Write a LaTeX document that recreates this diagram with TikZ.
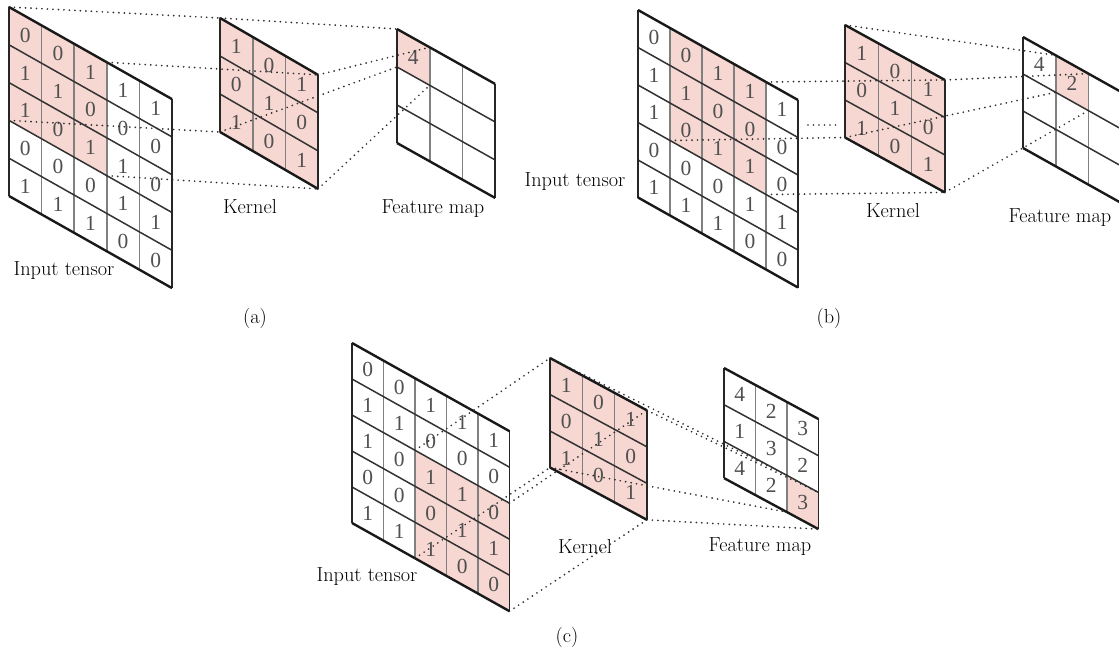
\documentclass[tikz,border=0pt]{standalone}
\usepackage{fontspec}
\newfontfamily\digitfont{Liberation Serif}
\usetikzlibrary{calc}

\definecolor{cellpink}{RGB}{246,215,209}
\definecolor{digitgray}{RGB}{80,80,80}
\definecolor{linkgray}{RGB}{45,45,45}

\tikzset{
  edgeline/.style={line width=2.4pt, black!90},
  sideline/.style={line width=1.4pt, black!85},
  rowline/.style={line width=1.5pt, black!80},
  colline/.style={line width=1.6pt, black!50},
  link/.style={line width=1.9pt, linkgray, line cap=round, dash pattern=on 0pt off 5.5pt},
  digit/.style={font=\digitfont\fontsize{21.5}{21.5}\selectfont, text=digitgray, inner sep=0pt},
  caption/.style={font=\fontsize{20.3}{23}\selectfont, inner sep=0pt},
}

% corner coordinates of a sheared grid: name, x0, y0, cell width, cell height, shear, cols, rows
\newcommand\mkgrid[8]{%
  \foreach \i in {0,...,#7}{%
    \foreach \j in {0,...,#8}{%
      \coordinate (#1-\i-\j) at ({#2+\i*#4},{#3+\i*#4*#6+\j*#5});
    }%
  }%
}
% shaded cell: grid, col, row
\newcommand\pinkcell[3]{%
  \pgfmathtruncatemacro\ci{#2+1}\pgfmathtruncatemacro\ri{#3+1}%
  \fill[cellpink] (#1-#2-#3) -- (#1-\ci-#3) -- (#1-\ci-\ri) -- (#1-#2-\ri) -- cycle;
}
% value in a cell: grid, col, row, value
\newcommand\celldigit[4]{%
  \pgfmathtruncatemacro\ci{#2+1}\pgfmathtruncatemacro\ri{#3+1}%
  \node[digit] (#1-d-#2-#3) at ($(#1-#2-#3)!0.5!(#1-\ci-\ri)$) {#4};
}
% all values, row by row: grid, cols, list
\newcommand\putdigits[3]{%
  \edef\valuelist{#3}%
  \foreach \v [count=\k from 0] in \valuelist {%
    \pgfmathtruncatemacro\cc{mod(\k,#2)}\pgfmathtruncatemacro\rr{div(\k,#2)}%
    \celldigit{#1}{\cc}{\rr}{\v}%
  }%
}
% ruling of a grid: grid, cols, rows
\newcommand\gridlines[3]{%
  \pgfmathtruncatemacro\lastc{#2-1}\pgfmathtruncatemacro\lastr{#3-1}%
  \foreach \i in {1,...,\lastc} \draw[colline] (#1-\i-0) -- (#1-\i-#3);
  \foreach \j in {1,...,\lastr} \draw[rowline] (#1-0-\j) -- (#1-#2-\j);
  \draw[sideline] (#1-0-0) -- (#1-0-#3) (#1-#2-0) -- (#1-#2-#3);
  \draw[edgeline] (#1-0-0) -- (#1-#2-0) (#1-0-#3) -- (#1-#2-#3);
}

\newcommand\inputvalues{0,0,1,1,1,1,1,0,0,0,1,0,1,1,0,0,0,0,1,1,1,1,1,0,0}
\newcommand\kernelvalues{1,0,1,0,1,0,1,0,1}
\newcommand\featurevalues{4,2,3,1,3,2,4,2,3}

\begin{document}
\begin{tikzpicture}[x=1pt,y=-1pt]
\useasboundingbox (0,0) rectangle (1119,654);

% ---------------- (a) ----------------
\mkgrid{ain}{9}{7}{32.6}{37.8}{0.565}{5}{5}
\mkgrid{ak}{220}{18}{32.7}{38}{0.58}{3}{3}
\mkgrid{afm}{397}{29}{32.7}{38}{0.56}{3}{3}
\foreach \c in {0,1,2}{\foreach \r in {0,1,2}{\pinkcell{ain}{\c}{\r}\pinkcell{ak}{\c}{\r}}}
\pinkcell{afm}{0}{0}
\putdigits{ain}{5}{\inputvalues}
\putdigits{ak}{3}{\kernelvalues}
\celldigit{afm}{0}{0}{4}
\gridlines{ain}{5}{5}
\gridlines{ak}{3}{3}
\gridlines{afm}{3}{3}
\node[caption] (a-inlabel) at (64,271) {Input tensor};
\node[caption] (a-klabel) at (250,207) {Kernel};
\node[caption] (a-fmlabel) at (433,209) {Feature map};
\node[caption] (a-tag) at (255,318) {(a)};
\draw[link] (ain-0-0) -- (ak-0-0);
\draw[link] (ain-3-0) -- (ak-3-0);
\draw[link] (ain-0-3) -- (ak-0-3);
\draw[link] (ain-3-3) -- (ak-3-3);
\draw[link] (ak-0-0) -- (afm-0-0);
\draw[link] (ak-3-0) -- (afm-1-0);
\draw[link] (ak-0-3) -- (afm-0-1);
\draw[link] (ak-3-3) -- (afm-1-1);

% ---------------- (b) ----------------
\mkgrid{bin}{638}{10}{32}{37.5}{0.5625}{5}{5}
\mkgrid{bk}{845}{25}{33.3}{37.5}{0.55}{3}{3}
\mkgrid{bfm}{1023}{37}{32.7}{37}{0.56}{3}{3}
\foreach \c in {1,2,3}{\foreach \r in {0,1,2}{\pinkcell{bin}{\c}{\r}}}
\foreach \c in {0,1,2}{\foreach \r in {0,1,2}{\pinkcell{bk}{\c}{\r}}}
\pinkcell{bfm}{1}{0}
\putdigits{bin}{5}{\inputvalues}
\putdigits{bk}{3}{\kernelvalues}
\celldigit{bfm}{0}{0}{4}
\celldigit{bfm}{1}{0}{2}
\gridlines{bin}{5}{5}
\gridlines{bk}{3}{3}
\gridlines{bfm}{3}{3}
\node[caption] (b-inlabel) at (575,182) {Input tensor};
\node[caption] (b-klabel) at (893,211) {Kernel};
\node[caption] (b-fmlabel) at (1060,218) {Feature map};
\node[caption] (b-tag) at (829,318) {(b)};
\coordinate (bstub-a) at (808,125);
\coordinate (bstub-b) at (840,125);
\draw[link] (bin-4-0) -- (bk-3-0);
\draw[link] (bstub-a) -- (bstub-b);
\draw[link] (bin-1-3) -- (bk-0-3);
\draw[link] (bin-4-3) -- (bk-3-3);
\draw[link] (bk-0-0) -- (bfm-1-0);
\draw[link] (bk-3-0) -- (bfm-2-0);
\draw[link] (bk-0-3) -- (bfm-1-1);
\draw[link] (bk-3-3) -- (bfm-2-1);

% ---------------- (c) ----------------
\mkgrid{cin}{352}{343}{31.5}{36}{0.56}{5}{5}
\mkgrid{ck}{550}{358}{32.3}{36.5}{0.54}{3}{3}
\mkgrid{cfm}{724}{368}{31.5}{36.7}{0.54}{3}{3}
\foreach \c in {2,3,4}{\foreach \r in {2,3,4}{\pinkcell{cin}{\c}{\r}}}
\foreach \c in {0,1,2}{\foreach \r in {0,1,2}{\pinkcell{ck}{\c}{\r}}}
\pinkcell{cfm}{2}{2}
\putdigits{cin}{5}{\inputvalues}
\putdigits{ck}{3}{\kernelvalues}
\putdigits{cfm}{3}{\featurevalues}
\gridlines{cin}{5}{5}
\gridlines{ck}{3}{3}
\gridlines{cfm}{3}{3}
\node[caption] (c-inlabel) at (367,577) {Input tensor};
\node[caption] (c-klabel) at (585,547) {Kernel};
\node[caption] (c-fmlabel) at (760,547) {Feature map};
\node[caption] (c-tag) at (567,637) {(c)};
\draw[link] (cin-2-2) -- (ck-0-0);
\draw[link] (cin-5-2) -- (ck-3-0);
\draw[link] (cin-2-5) -- (ck-0-3);
\draw[link] (cin-5-5) -- (ck-3-3);
\draw[link] (ck-0-0) -- (cfm-2-2);
\draw[link] (ck-3-0) -- (cfm-3-2);
\draw[link] (ck-0-3) -- (cfm-2-3);
\draw[link] (ck-3-3) -- (cfm-3-3);
\end{tikzpicture}
\end{document}
